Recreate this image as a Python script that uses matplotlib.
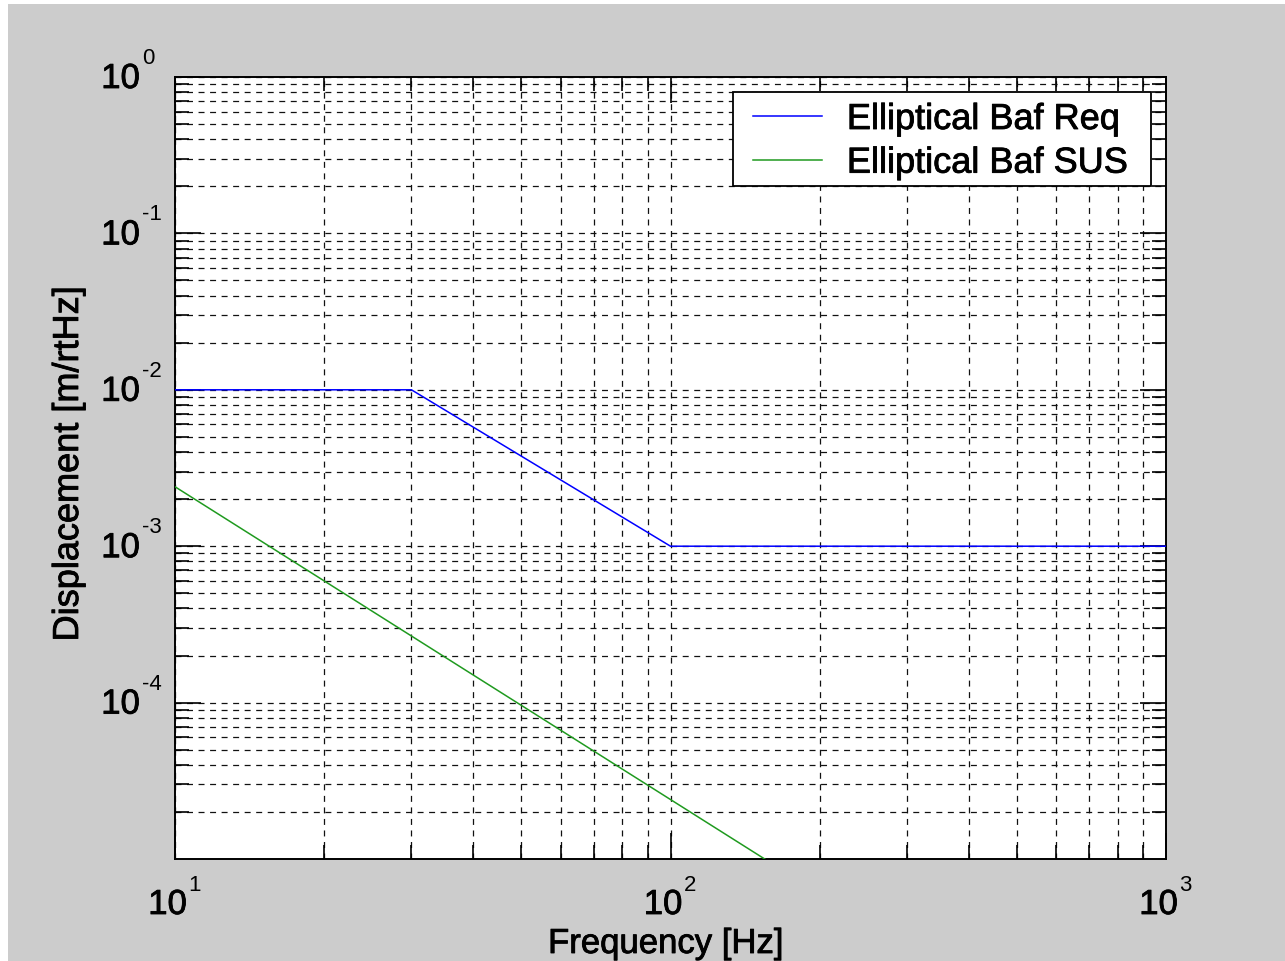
import numpy as np
import matplotlib as mpl
import matplotlib.pyplot as plt
import matplotlib.patheffects as pe
from matplotlib.ticker import LogLocator, FixedLocator, NullFormatter

mpl.rcParams.update({
    'font.family': ['Liberation Sans', 'DejaVu Sans'],
    'lines.scale_dashes': False,
})

# data
req_freq = [10, 30, 100, 1000]
req_disp = [1e-2, 1e-2, 1e-3, 1e-3]
sus_freq = [10, 100, 1000]
sus_disp = [2.4e-3, 2.4e-5, 2.4e-7]

labels = ['Elliptical Baf Req', 'Elliptical Baf SUS']
x_major = [10, 100, 1000]
y_major = [1e-4, 1e-3, 1e-2, 1e-1, 1e0]

W, H = 1285, 962
PT = 72 / 100  # points per pixel
heavy = [pe.withStroke(linewidth=0.6, foreground='black')]

fig = plt.figure(figsize=(W / 100, H / 100), dpi=100, facecolor='#cccccc')
# white strip at the screenshot edges
fig.patches.append(plt.Rectangle((0, 1 - 5 / H), 1, 5 / H, transform=fig.transFigure,
                                 facecolor='white', edgecolor='none', zorder=0))
fig.patches.append(plt.Rectangle((0, 0), 8 / W, 1, transform=fig.transFigure,
                                 facecolor='white', edgecolor='none', zorder=0))

ax = fig.add_axes([175 / W, 102 / H, 991 / W, 782 / H])
ax.set_facecolor('white')

ax.plot(req_freq, req_disp, color='#0000ff', lw=1.1, label=labels[0], zorder=3)
ax.plot(sus_freq, sus_disp, color='#1f9a1f', lw=1.1, label=labels[1], zorder=3)

ax.set_xscale('log')
ax.set_yscale('log')
ax.set_xlim(10, 1000)
ax.set_ylim(1e-5, 1e0)

ax.xaxis.set_major_locator(FixedLocator(x_major))
ax.xaxis.set_minor_locator(LogLocator(base=10, subs=np.arange(2, 10), numticks=20))
ax.yaxis.set_major_locator(FixedLocator(y_major))
ax.yaxis.set_minor_locator(LogLocator(base=10, subs=np.arange(2, 10), numticks=20))
for axis in (ax.xaxis, ax.yaxis):
    axis.set_major_formatter(NullFormatter())
    axis.set_minor_formatter(NullFormatter())

grid_style = dict(color='#111111', lw=0.9, linestyle=(0, (4.3, 4.0)))
ax.grid(True, which='major', **grid_style)
ax.grid(True, which='minor', **grid_style)
ax.set_axisbelow(True)

ax.tick_params(which='both', direction='in', top=True, right=True, colors='black')
ax.tick_params(which='major', length=19, width=1.2)
ax.tick_params(which='minor', length=10, width=1.2)
for s in ax.spines.values():
    s.set_linewidth(1.4)
    s.set_color('black')

# tick labels drawn as "10" plus a raised exponent
base_fs, exp_fs = 25, 16
for v in y_major:
    e = int(round(np.log10(v)))
    ax.annotate('10', xy=(0, v), xycoords=('axes fraction', 'data'),
                xytext=(-35 * PT, -11 * PT), textcoords='offset points',
                ha='right', va='baseline', fontsize=base_fs, path_effects=heavy)
    ax.annotate(str(e), xy=(0, v), xycoords=('axes fraction', 'data'),
                xytext=(-33 * PT, 14 * PT), textcoords='offset points',
                ha='left', va='baseline', fontsize=exp_fs)
for v in x_major:
    e = int(round(np.log10(v)))
    ax.annotate('10', xy=(v, 0), xycoords=('data', 'axes fraction'),
                xytext=(12 * PT, -55 * PT), textcoords='offset points',
                ha='right', va='baseline', fontsize=base_fs, path_effects=heavy)
    ax.annotate(str(e), xy=(v, 0), xycoords=('data', 'axes fraction'),
                xytext=(13 * PT, -31 * PT), textcoords='offset points',
                ha='left', va='baseline', fontsize=exp_fs)

fig.text(666 / W, 1 - 928 / H, 'Frequency [Hz]', fontsize=25, ha='center', va='top',
         path_effects=heavy)
fig.text(86 / W, 1 - 465 / H, 'Displacement [m/rtHz]', fontsize=26,
         ha='center', va='bottom', rotation=90, rotation_mode='anchor',
         path_effects=heavy)

# legend box
ax.add_patch(plt.Rectangle((733 / W, 1 - 187 / H), (1151 - 733) / W, 94 / H,
                           transform=fig.transFigure, facecolor='white',
                           edgecolor='black', lw=1.3, zorder=4))
leg = ax.legend(loc='upper left', bbox_to_anchor=(753 / W, 1 - 103 / H),
                bbox_transform=fig.transFigure, fontsize=26, frameon=False,
                handlelength=1.9, borderpad=0, labelspacing=0.24,
                handletextpad=0.7, borderaxespad=0)
leg.set_zorder(5)
for t in leg.get_texts():
    t.set_path_effects(heavy)

fig.savefig('out.png', dpi=100, facecolor=fig.get_facecolor())
